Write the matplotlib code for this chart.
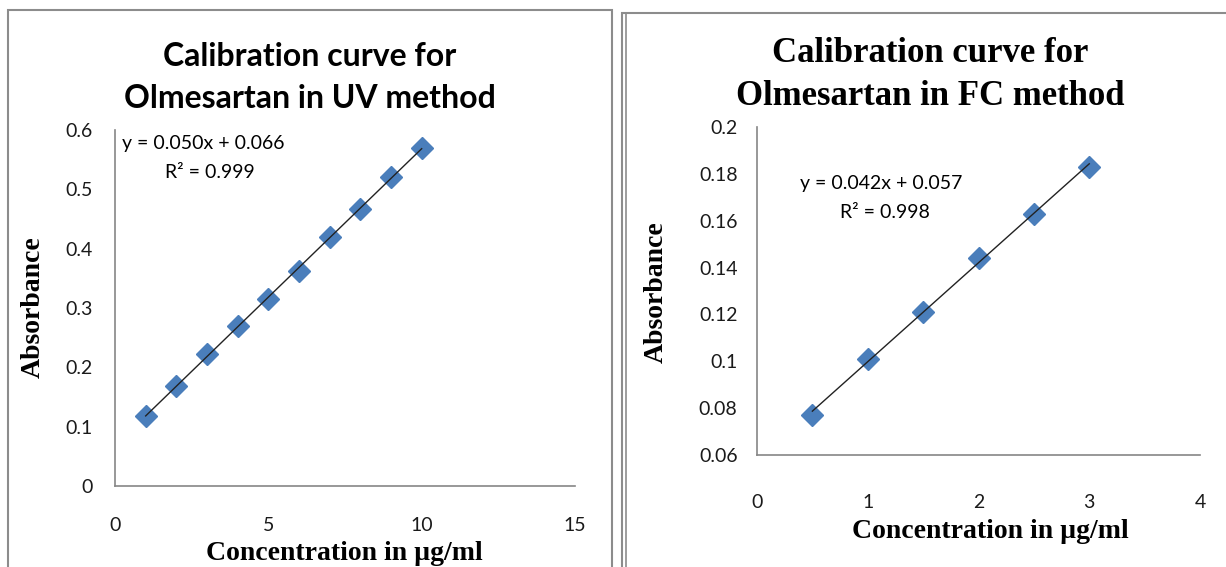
import numpy as np
import matplotlib
matplotlib.use("Agg")
import matplotlib.pyplot as plt
from matplotlib.patches import Rectangle

# data
uv_conc = [1, 2, 3, 4, 5, 6, 7, 8, 9, 10]
uv_abs = [0.118, 0.168, 0.222, 0.270, 0.316, 0.362, 0.419, 0.467, 0.521, 0.570]
fc_conc = [0.5, 1.0, 1.5, 2.0, 2.5, 3.0]
fc_abs = [0.077, 0.101, 0.121, 0.144, 0.163, 0.183]

uv_xticks = [0, 5, 10, 15]
uv_yticks = [0, 0.1, 0.2, 0.3, 0.4, 0.5, 0.6]
fc_xticks = [0, 1, 2, 3, 4]
fc_yticks = [0.06, 0.08, 0.1, 0.12, 0.14, 0.16, 0.18, 0.2]

W, H = 1226, 567
SANS = "Lato"
SERIF = "Liberation Serif"
BLUE = "#4a7ebb"
GRID = "#868686"


def fx(x):
    return x / W


def fy(y):
    return 1 - y / H


def make_axes(fig, left, top, right, bottom):
    return fig.add_axes([fx(left), fy(bottom), fx(right - left), (bottom - top) / H])


def style_axes(ax, xticks, yticks, xpad, ypad, ylabels):
    for s in ["top", "right"]:
        ax.spines[s].set_visible(False)
    for s in ["left", "bottom"]:
        ax.spines[s].set_color(GRID)
        ax.spines[s].set_linewidth(1.2)
    ax.set_xticks(xticks)
    ax.set_yticks(yticks)
    ax.set_xticklabels([str(t) for t in xticks])
    ax.set_yticklabels(ylabels)
    ax.tick_params(axis="x", length=0, pad=xpad, labelsize=14, colors="#1a1a1a")
    ax.tick_params(axis="y", length=0, pad=ypad, labelsize=14, colors="#1a1a1a")
    for lab in ax.get_xticklabels() + ax.get_yticklabels():
        lab.set_family(SANS)


def draw_series(ax, x, y):
    x = np.array(x)
    y = np.array(y)
    m, b = np.polyfit(x, y, 1)
    xs = np.array([x.min(), x.max()])
    ax.plot(x, y, linestyle="none", marker="D", ms=11, color=BLUE,
            markeredgecolor=BLUE, zorder=3)
    ax.plot(xs, m * xs + b, color="#222222", lw=1.0, zorder=4)


fig = plt.figure(figsize=(W / 100, H / 100), dpi=100)
fig.patch.set_facecolor("white")

# panel frames
fig.patches.append(Rectangle((fx(8), fy(575)), fx(612 - 8), (575 - 10) / H,
                             transform=fig.transFigure, fill=False,
                             edgecolor="#8c8c8c", lw=1.5))
fig.patches.append(Rectangle((fx(622), fy(575)), fx(700), (575 - 13) / H,
                             transform=fig.transFigure, fill=False,
                             edgecolor="#8c8c8c", lw=1.5))
fig.patches.append(Rectangle((fx(626), fy(575)), fx(700), (575 - 13) / H,
                             transform=fig.transFigure, fill=False,
                             edgecolor="#8c8c8c", lw=1.2))

# ---- left: UV method ----
ax1 = make_axes(fig, 115, 130, 575, 486)
ax1.set_xlim(0, 15)
ax1.set_ylim(0, 0.6)
draw_series(ax1, uv_conc, uv_abs)
style_axes(ax1, uv_xticks, uv_yticks, 22, 16,
           ["0" if t == 0 else f"{t:g}" for t in uv_yticks])

fig.text(fx(310), fy(56), "Calibration curve for", ha="center", va="center",
         family=SANS, weight="bold", fontsize=23)
fig.text(fx(310), fy(99), "Olmesartan in UV method", ha="center", va="center",
         family=SANS, weight="bold", fontsize=23)
fig.text(fx(33), fy(307), "Absorbance", rotation=90, ha="center", va="center",
         family=SERIF, weight="bold", fontsize=20)
fig.text(fx(344), fy(553), "Concentration in µg/ml", ha="center", va="center",
         family=SERIF, weight="bold", fontsize=20)
fig.text(fx(122), fy(143), "y = 0.050x + 0.066", ha="left", va="center",
         family=SANS, fontsize=14)
fig.text(fx(165), fy(172), "R² = 0.999", ha="left", va="center",
         family=SANS, fontsize=14)

# ---- right: FC method ----
ax2 = make_axes(fig, 757, 127, 1200, 455)
ax2.set_xlim(0, 4)
ax2.set_ylim(0.06, 0.2)
draw_series(ax2, fc_conc, fc_abs)
style_axes(ax2, fc_xticks, fc_yticks, 28, 14,
           [f"{t:g}" for t in fc_yticks])

fig.text(fx(930), fy(53), "Calibration curve for", ha="center", va="center",
         family=SERIF, weight="bold", fontsize=25)
fig.text(fx(930), fy(97), "Olmesartan in FC method", ha="center", va="center",
         family=SERIF, weight="bold", fontsize=25)
fig.text(fx(656), fy(292), "Absorbance", rotation=90, ha="center", va="center",
         family=SERIF, weight="bold", fontsize=20)
fig.text(fx(990), fy(531), "Concentration in µg/ml", ha="center", va="center",
         family=SERIF, weight="bold", fontsize=20)
fig.text(fx(800), fy(183), "y = 0.042x + 0.057", ha="left", va="center",
         family=SANS, fontsize=14)
fig.text(fx(840), fy(213), "R² = 0.998", ha="left", va="center",
         family=SANS, fontsize=14)

fig.savefig("out.png", dpi=100)
